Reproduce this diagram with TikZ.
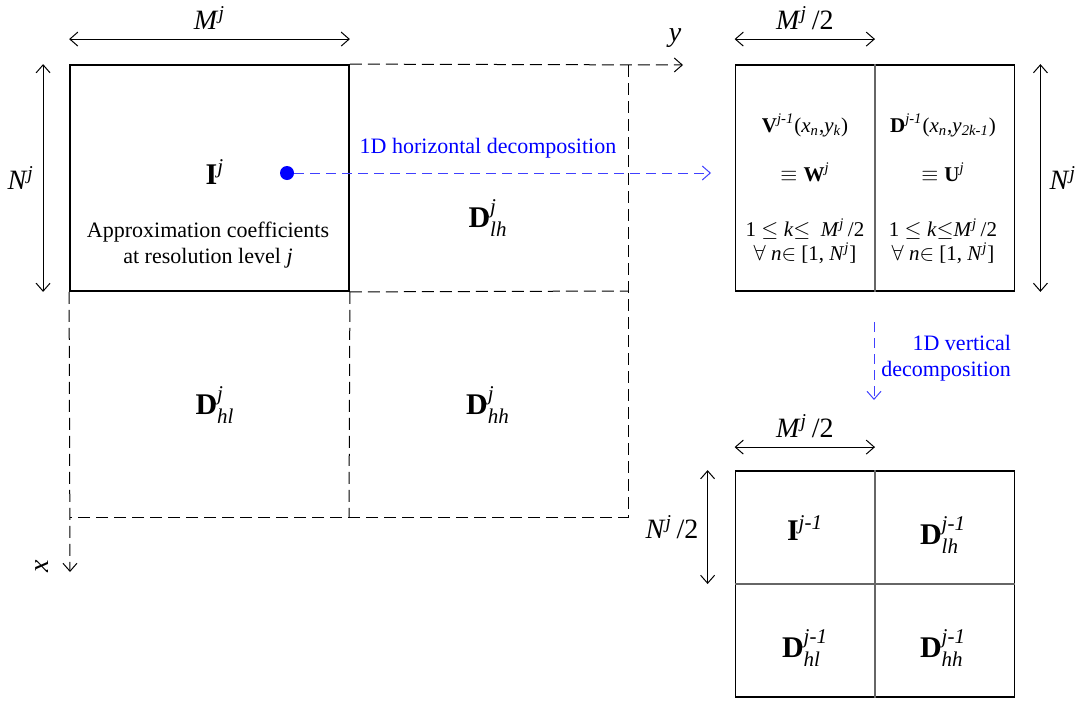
\documentclass[tikz,border=0pt]{standalone}
\usepackage{amsmath,amssymb}
\usepackage{fontspec}
\setmainfont{Liberation Serif}
\usepackage{tikz}
\usetikzlibrary{arrows.meta,positioning}
\newcommand{\sym}[1]{\textit{#1}}
\newcommand{\coef}[3]{$\textbf{#1}^{\sym{#2}}_{\sym{#3}}$}
\newcommand{\bigfont}{\fontsize{15}{18}\selectfont}
\newcommand{\cellfont}{\fontsize{10.5}{12.5}\selectfont}

\tikzset{
  >={Straight Barb[length=4pt,width=7pt]},
  blockbox/.style={draw,line width=0.9pt,minimum width=139.5pt,minimum height=113pt,inner sep=0pt},
  grid/.style={line width=0.5pt,dash pattern=on 6pt off 3pt},
  dimline/.style={<->,line width=0.5pt},
  divider/.style={draw=black!60,line width=0.6pt},
  flow/.style={->,blue!75,line width=0.5pt,dash pattern=on 5pt off 3pt},
  srcdot/.style={circle,fill=blue,inner sep=0pt,minimum size=7pt}
}

\begin{document}
\begin{tikzpicture}[x=0.5pt,y=-0.5pt,font=\fontsize{11}{13}\selectfont]
  \useasboundingbox (0,0) rectangle (1086,702);

  % level j image and its dashed layout
  \node[blockbox] (img) at (209.5,178) {};
  \coordinate (yend) at (683,65);
  \coordinate (xend) at (70,572);
  \draw[grid,->] (img.north east) -- (yend);
  \draw[grid,->] (img.south west) -- (xend);
  \draw[grid] (628,65) -- (628,517) -- (70,517);
  \draw[grid] (img.south east) -- (349,517);
  \draw[grid] (img.south east) -- (628,291);
  \node at (675,38) {\fontsize{14}{16}\selectfont\sym{y}};
  \node[rotate=90] at (42,566) {\fontsize{14}{16}\selectfont\sym{x}};

  \draw[dimline] ([yshift=12.5pt]img.north west) -- ([yshift=12.5pt]img.north east)
    node[midway,above=1pt] {\fontsize{14}{16}\selectfont\sym{M}$^{\sym{j}}$};
  \draw[dimline] ([xshift=-13pt]img.north west) -- ([xshift=-13pt]img.south west)
    node[midway,left=1pt] {\fontsize{14}{16}\selectfont\sym{N}$^{\sym{j}}$};

  \node (Ij) at (215,172) {\bigfont$\textbf{I}^{\sym{j}}$};
  \node[align=center] (approx) at (208,245) {Approximation coefficients\\at resolution level \sym{j}};
  \node (Dlh) at (488,218) {\bigfont\coef{D}{j}{lh}};
  \node (Dhl) at (215,405) {\bigfont\coef{D}{j}{hl}};
  \node (Dhh) at (488,405) {\bigfont\coef{D}{j}{hh}};

  % horizontal step
  \node[srcdot] (src) at (287,173) {};
  \coordinate (hend) at (711,173);
  \draw[flow] (src) -- (hend);
  \node[blue] (hlabel) at (488,148) {1D horizontal decomposition};

  \node[blockbox] (half) at (875,178) {};
  \draw[divider] (half.north) -- (half.south);
  \draw[dimline] ([yshift=12.5pt]half.north west) -- ([yshift=12.5pt]half.north)
    node[midway,above=1pt] {\fontsize{14}{16}\selectfont\sym{M}$^{\sym{j}}$\,/2};
  \draw[dimline] ([xshift=12.5pt]half.north east) -- ([xshift=12.5pt]half.south east)
    node[midway,right=1pt] {\fontsize{14}{16}\selectfont\sym{N}$^{\sym{j}}$};

  \node (Vc) at (805,125) {\cellfont$\textbf{V}^{\sym{j-1}}$(\sym{x}$_{\sym{n}}$,\sym{y}$_{\sym{k}}$)};
  \node (Wc) at (805,172) {\cellfont$\equiv\textbf{W}^{\sym{j}}$};
  \node[align=center] (Vr) at (805,241) {\cellfont 1 $\leq$ \sym{k}$\leq$~~\sym{M}$^{\sym{j}}$\,/2\\[-1pt]\cellfont$\forall$ \sym{n}$\in$ [1, \sym{N}$^{\sym{j}}$]};
  \node (Dc) at (943,125) {\cellfont$\textbf{D}^{\sym{j-1}}$(\sym{x}$_{\sym{n}}$,\sym{y}$_{\sym{2k-1}}$)};
  \node (Uc) at (943,172) {\cellfont$\equiv\textbf{U}^{\sym{j}}$};
  \node[align=center] (Ur) at (943,241) {\cellfont 1 $\leq$ \sym{k}$\leq$\sym{M}$^{\sym{j}}$\,/2\\[-1pt]\cellfont$\forall$ \sym{n}$\in$ [1, \sym{N}$^{\sym{j}}$]};

  % vertical step
  \coordinate (vstart) at (874,322);
  \coordinate (vend) at (874,400);
  \draw[flow] (vstart) -- (vend);
  \node[blue,align=right,anchor=east] (vlabel) at (1018,358) {1D vertical\\decomposition};

  \node[blockbox] (next) at (875,584) {};
  \draw[divider] (next.north) -- (next.south);
  \draw[divider] (next.west) -- (next.east);
  \draw[dimline] ([yshift=11.5pt]next.north west) -- ([yshift=11.5pt]next.north)
    node[midway,above=1pt] {\fontsize{14}{16}\selectfont\sym{M}$^{\sym{j}}$\,/2};
  \draw[dimline] ([xshift=-13.5pt]next.north west) -- ([xshift=-13.5pt]next.west)
    node[midway,left=1pt] {\fontsize{14}{16}\selectfont\sym{N}$^{\sym{j}}$\,/2};

  \node (In) at (805,528) {\bigfont$\textbf{I}^{\sym{j-1}}$};
  \node (Dlhn) at (943,535) {\bigfont\coef{D}{j-1}{lh}};
  \node (Dhln) at (805,648) {\bigfont\coef{D}{j-1}{hl}};
  \node (Dhhn) at (943,648) {\bigfont\coef{D}{j-1}{hh}};
\end{tikzpicture}
\end{document}
